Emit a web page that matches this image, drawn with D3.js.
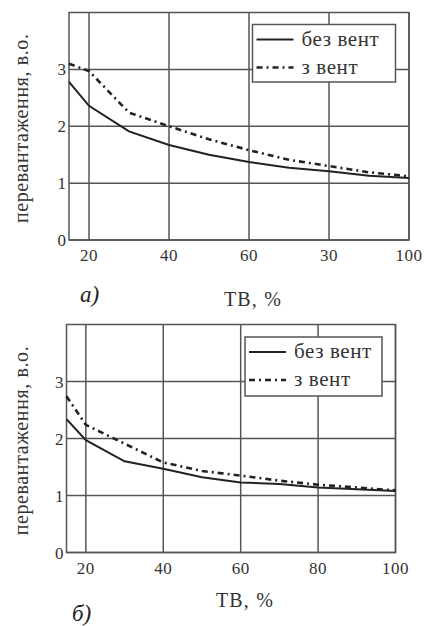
<!DOCTYPE html>
<html>
<head>
<meta charset="utf-8">
<script src="https://cdn.jsdelivr.net/npm/d3@7"></script>
<style>
  body { margin: 0; background: #fff; }
  svg { display: block; }
</style>
</head>
<body>
<svg id="chart" width="427" height="626" font-family="'Liberation Serif', 'Times New Roman', 'DejaVu Serif', serif"></svg>
<script>
// load values, % (same for both panels)
const tv = [15, 20, 30, 40, 50, 60, 70, 80, 90, 100];

// panel а)
const aNoVent = [2.78, 2.36, 1.91, 1.67, 1.50, 1.37, 1.27, 1.21, 1.13, 1.09];
const aVent   = [3.10, 2.97, 2.24, 2.00, 1.77, 1.58, 1.41, 1.30, 1.19, 1.12];

// panel б)
const bNoVent = [2.34, 1.97, 1.60, 1.47, 1.32, 1.23, 1.20, 1.14, 1.11, 1.08];
const bVent   = [2.74, 2.24, 1.91, 1.58, 1.43, 1.35, 1.26, 1.19, 1.14, 1.09];

const xTicks = [20, 40, 60, 80, 100];
const xTickLabels = ["20", "40", "60", "30", "100"]; // scan shows "30" under 80 in panel а)
const xTickLabelsB = ["20", "40", "60", "80", "100"];
const yTicks = [0, 1, 2, 3];
const seriesNames = ["без вент", "з вент"];

const svg = d3.select("#chart");
const textColor = "#333";

function makePanel(cfg) {
    const g = svg.append("g");
    const x = d3.scaleLinear().domain([15, 100]).range([cfg.left, cfg.right]);
    const y = d3.scaleLinear().domain([0, 4]).range([cfg.bottom, cfg.top]);

    //grid lines
    g.selectAll(".vgrid").data(xTicks).enter().append("line")
        .attr("x1", d => x(d)).attr("x2", d => x(d))
        .attr("y1", cfg.top).attr("y2", cfg.bottom)
        .attr("stroke", "#555").attr("stroke-width", 1.5);
    g.selectAll(".hgrid").data(yTicks).enter().append("line")
        .attr("x1", cfg.left).attr("x2", cfg.right)
        .attr("y1", d => y(d)).attr("y2", d => y(d))
        .attr("stroke", "#555").attr("stroke-width", 1.5);

    //frame
    g.append("rect")
        .attr("x", cfg.left).attr("y", cfg.top)
        .attr("width", cfg.right - cfg.left).attr("height", cfg.bottom - cfg.top)
        .attr("fill", "none").attr("stroke", "#555").attr("stroke-width", 1.5);

    //tick labels
    g.selectAll(".xl").data(xTicks).enter().append("text")
        .attr("x", d => x(d)).attr("y", cfg.bottom + 21)
        .attr("text-anchor", "middle").attr("font-size", 17).attr("letter-spacing", 0.5)
        .attr("fill", textColor)
        .text((d, i) => cfg.xLabels[i]);
    g.selectAll(".yl").data(yTicks).enter().append("text")
        .attr("x", cfg.left - 3).attr("y", d => y(d) + 6)
        .attr("text-anchor", "end").attr("font-size", 17).attr("fill", textColor)
        .text(d => d);

    const line = d3.line().x((d, i) => x(tv[i])).y(d => y(d));

    g.append("path").datum(cfg.vent)
        .attr("d", line).attr("fill", "none")
        .attr("stroke", "#222").attr("stroke-width", 2.6)
        .attr("stroke-dasharray", "6,4,2,4");
    g.append("path").datum(cfg.noVent)
        .attr("d", line).attr("fill", "none")
        .attr("stroke", "#222").attr("stroke-width", 2);

    //legend
    const lg = cfg.legend;
    g.append("rect")
        .attr("x", lg.x).attr("y", lg.y).attr("width", lg.w).attr("height", lg.h)
        .attr("fill", "#fff").attr("stroke", "#555").attr("stroke-width", 1.5);
    seriesNames.forEach((name, i) => {
        const ly = lg.y + 15 + i * 28;
        g.append("line")
            .attr("x1", lg.x + 4).attr("x2", lg.x + 41)
            .attr("y1", ly).attr("y2", ly)
            .attr("stroke", "#222").attr("stroke-width", i == 0 ? 2 : 2.6)
            .attr("stroke-dasharray", i == 0 ? null : "6,4,2,4");
        g.append("text")
            .attr("x", lg.x + 49).attr("y", ly + 6)
            .attr("font-size", 21).attr("letter-spacing", 0.6).attr("fill", textColor)
            .text(name);
    });

    //axis titles
    g.append("text")
        .attr("transform", `translate(${cfg.yTitleX},${(cfg.top + cfg.bottom) / 2 + 2}) rotate(-90)`)
        .attr("text-anchor", "middle").attr("font-size", 20).attr("letter-spacing", 0.6)
        .attr("fill", textColor)
        .text("перевантаження, в.о.");
    g.append("text")
        .attr("x", cfg.xTitleX).attr("y", cfg.xTitleY)
        .attr("text-anchor", "middle").attr("font-size", 20).attr("letter-spacing", 1.2)
        .attr("fill", textColor)
        .text("ТВ, %");
    g.append("text")
        .attr("x", cfg.capX).attr("y", cfg.capY)
        .attr("font-size", 23).attr("font-style", "italic").attr("fill", "#222")
        .text(cfg.caption);
}

makePanel({
    left: 69, right: 409, top: 12.5, bottom: 240,
    noVent: aNoVent, vent: aVent, xLabels: xTickLabels,
    legend: {x: 252.5, y: 24.5, w: 143, h: 57.5},
    yTitleX: 28, xTitleX: 253, xTitleY: 306,
    capX: 80, capY: 302, caption: "а)"
});

makePanel({
    left: 66.5, right: 395.5, top: 324.5, bottom: 552.5,
    noVent: bNoVent, vent: bVent, xLabels: xTickLabelsB,
    legend: {x: 245, y: 337, w: 137, h: 59},
    yTitleX: 28, xTitleX: 245, xTitleY: 607,
    capX: 72, capY: 621, caption: "б)"
});
</script>
</body>
</html>
